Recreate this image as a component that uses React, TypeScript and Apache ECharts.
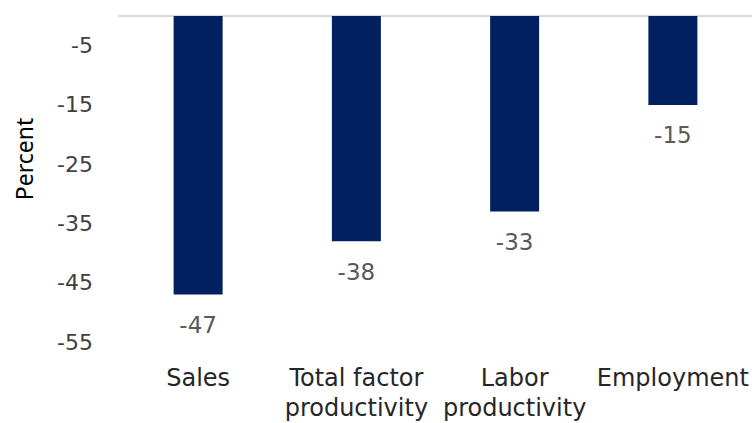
import React, { useEffect, useRef } from "react";
import * as echarts from "echarts";

const categories = ["Sales", "Total factor\nproductivity", "Labor\nproductivity", "Employment"];
const values = [-47, -38, -33, -15];
const yMin = -55;
const yMax = 0;
const yInterval = 10;

export default function App() {
  const ref = useRef<HTMLDivElement>(null);
  useEffect(() => {
    if (!ref.current) return;
    const chart = echarts.init(ref.current, undefined, { renderer: "svg" });
    const font = "'DejaVu Sans', sans-serif";
    chart.setOption({
      animation: false,
      grid: { left: 119, right: 0, top: 16, bottom: 77, containLabel: false },
      xAxis: [
        {
          type: "category",
          data: categories,
          position: "bottom",
          axisLine: { show: false, onZero: false },
          axisTick: { show: false },
          axisLabel: {
            interval: 0,
            margin: 21,
            color: "#262626",
            fontFamily: font,
            fontSize: 24,
            lineHeight: 30,
          },
        },
        {
          type: "category",
          data: categories,
          position: "top",
          axisLine: { show: true, onZero: false, lineStyle: { color: "#d9d9d9", width: 2 } },
          axisTick: { show: false },
          axisLabel: { show: false },
        },
      ],
      yAxis: {
        type: "value",
        min: yMin,
        max: yMax,
        interval: yInterval,
        axisLine: { show: false },
        axisTick: { show: false },
        splitLine: { show: false },
        axisLabel: {
          margin: 26,
          color: "#404040",
          fontFamily: font,
          fontSize: 22,
          showMaxLabel: false,
          formatter: (v: number) => (v === 0 ? "" : String(v)),
        },
      },
      graphic: [
        {
          type: "text",
          x: 24,
          y: 159,
          rotation: Math.PI / 2,
          style: {
            text: "Percent",
            fill: "#000000",
            fontFamily: "'Noto Sans', sans-serif",
            fontSize: 23,
            textAlign: "center",
            textVerticalAlign: "middle",
          },
        },
      ],
      series: [
        {
          type: "bar",
          data: values,
          barWidth: 49,
          itemStyle: { color: "#002060" },
          label: {
            show: true,
            position: "bottom",
            distance: 19,
            color: "#595959",
            fontFamily: font,
            fontSize: 23,
          },
        },
      ],
    });
    return () => chart.dispose();
  }, []);
  return <div ref={ref} style={{ width: 752, height: 423, position: "absolute", left: 0, top: 0 }} />;
}
